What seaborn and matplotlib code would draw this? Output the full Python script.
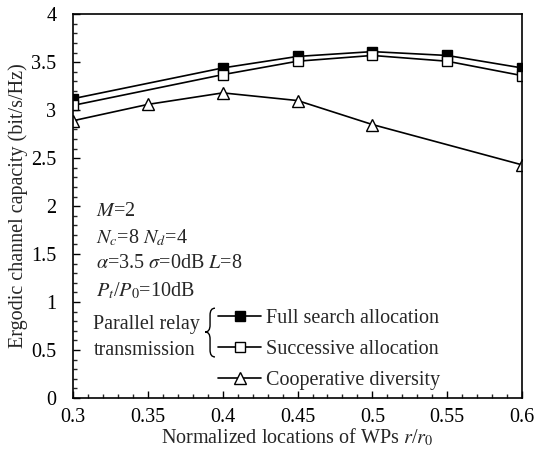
import numpy as np
import pandas as pd
import matplotlib
matplotlib.use("Agg")
import matplotlib.pyplot as plt
from matplotlib.ticker import MultipleLocator
from matplotlib.path import Path
from matplotlib.patches import PathPatch
import seaborn as sns

# Data
loc_full = [0.30, 0.40, 0.45, 0.50, 0.55, 0.60]
full_search = [3.12, 3.44, 3.56, 3.61, 3.57, 3.44]
successive = [3.05, 3.37, 3.51, 3.57, 3.51, 3.36]
loc_coop = [0.30, 0.35, 0.40, 0.45, 0.50, 0.60]
cooperative = [2.89, 3.06, 3.18, 3.10, 2.85, 2.43]

sns.set_theme(style="ticks")
plt.rcParams['font.family'] = ['Liberation Serif', 'DejaVu Serif']
plt.rcParams['mathtext.fontset'] = 'stix'
FS = 14.5

fig = plt.figure(figsize=(5.46, 4.58), dpi=100)
ax = fig.add_axes([0.134, 0.131, 0.822, 0.838])

common = dict(color='black', linewidth=1.2, markeredgecolor='black',
              markeredgewidth=1.0, ax=ax)
sns.lineplot(x=loc_full, y=full_search, marker='s', markerfacecolor='black',
             markersize=7, label='Full search allocation', **common)
sns.lineplot(x=loc_full, y=successive, marker='s', markerfacecolor='white',
             markersize=7, label='Successive allocation', **common)
sns.lineplot(x=loc_coop, y=cooperative, marker='^', markerfacecolor='white',
             markersize=9, label='Cooperative diversity', **common)

ax.set_xlim(0.3, 0.6)
ax.set_ylim(0, 4)
ax.xaxis.set_major_locator(MultipleLocator(0.05))
ax.xaxis.set_minor_locator(MultipleLocator(0.01))
ax.yaxis.set_major_locator(MultipleLocator(0.5))
ax.yaxis.set_minor_locator(MultipleLocator(0.1))
ax.xaxis.set_major_formatter(plt.FuncFormatter(lambda v, p: f"{v:g}"))
ax.yaxis.set_major_formatter(plt.FuncFormatter(lambda v, p: f"{v:g}"))
ax.tick_params(which='major', direction='in', length=5, width=1, labelsize=FS,
               top=False, right=False, colors='black')
ax.tick_params(which='minor', direction='in', length=3, width=1, top=False, right=False)
ax.tick_params(axis='x', pad=7)
ax.tick_params(axis='y', pad=12)
for s in ax.spines.values():
    s.set_linewidth(1.2)
    s.set_color('black')

ax.set_xlabel(r'Normalized locations of WPs $r$/$r_0$', fontsize=FS, labelpad=0)
ax.set_ylabel('Ergodic channel capacity (bit/s/Hz)', fontsize=FS, labelpad=2)

ax.legend(loc='upper left', bbox_to_anchor=(0.323, 0.232), frameon=False,
          fontsize=FS, handlelength=2.15, handletextpad=0.25, labelspacing=0.58,
          borderpad=0, borderaxespad=0)

# parameter annotations
tx = 0.05
for yy, s in [(0.485, r'$M$=2'), (0.418, r'$N_c$=8 $N_d$=4'),
              (0.35, r'$\alpha$=3.5 $\sigma$=0dB $L$=8'), (0.28, r'$P_t$/$P_0$=10dB')]:
    ax.text(tx, yy, s, transform=ax.transAxes, fontsize=FS, va='center', ha='left')

ax.text(0.045, 0.157, 'Parallel relay\ntransmission', transform=ax.transAxes,
        fontsize=FS, va='center', ha='left', linespacing=1.5)

# curly brace
x1, xm, x2 = 0.294, 0.305, 0.316
yt, ym, yb = 0.234, 0.172, 0.107
d = 0.018
verts = [(x2, yt), (xm, yt), (xm, yt - d),
         (xm, ym + d),
         (xm, ym), (x1, ym),
         (xm, ym), (xm, ym - d),
         (xm, yb + d),
         (xm, yb), (x2, yb)]
codes = [Path.MOVETO, Path.CURVE3, Path.CURVE3,
         Path.LINETO,
         Path.CURVE3, Path.CURVE3,
         Path.CURVE3, Path.CURVE3,
         Path.LINETO,
         Path.CURVE3, Path.CURVE3]
ax.add_patch(PathPatch(Path(verts, codes), transform=ax.transAxes, fill=False,
                       edgecolor='black', linewidth=1.0, clip_on=False))

fig.savefig('out.png', dpi=100)
